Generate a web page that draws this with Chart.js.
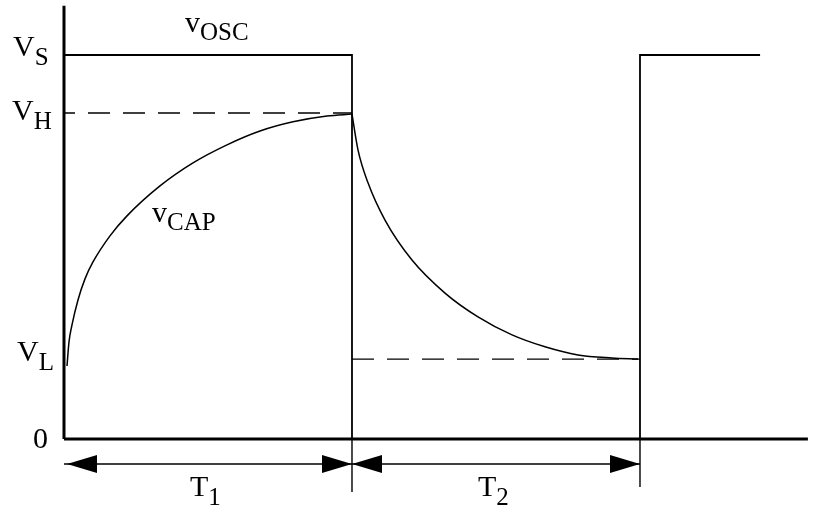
<!DOCTYPE html>
<html lang="en">

<head>
  <meta charset="UTF-8">
  <title>Oscillator and capacitor voltage</title>
  <script src="https://cdn.jsdelivr.net/npm/chart.js"></script>
  <style>
    body { margin: 0; background: #fff; }
    #wrap { position: relative; width: 821px; height: 508px; }
  </style>
</head>

<body>
  <div id="wrap"><canvas id="timing"></canvas></div>

  <script>
    // levels (VS = 1) and time (T1 = 1)
    const VS = 1.0, VH = 0.849, VL = 0.208;
    const periodT = [0, 1, 2];

    // square wave of the oscillator
    const oscT = [0, 1, 1, 2, 2, 2.417];
    const oscV = [VS, VS, 0, 0, VS, VS];

    // capacitor charging
    const capRiseT = [0.0104, 0.0174, 0.0278, 0.0486, 0.0729, 0.1007, 0.1597, 0.2188, 0.3333, 0.4479, 0.566, 0.6806, 0.7951, 0.9132, 1.0];
    const capRiseV = [0.190, 0.253, 0.297, 0.362, 0.417, 0.461, 0.529, 0.581, 0.659, 0.719, 0.766, 0.802, 0.826, 0.841, 0.846];

    // capacitor discharging
    const capFallT = [1.0, 1.0208, 1.0556, 1.1146, 1.2083, 1.3229, 1.4375, 1.5556, 1.6701, 1.7847, 1.9028, 1.993];
    const capFallV = [0.846, 0.753, 0.667, 0.570, 0.466, 0.380, 0.318, 0.271, 0.240, 0.219, 0.211, 0.208];

    // y axis labels
    const tickValues = [VS, VH, VL, 0];
    const tickMain = ['V', 'V', 'V', '0'];
    const tickSub = ['S', 'H', 'L', ''];

    const periodLabels = ['1', '2'];

    const pts = (xs, ys) => xs.map((x, i) => ({ x: x, y: ys[i] }));

    const line = (data, extra) => Object.assign({
      data: data,
      showLine: true,
      borderColor: '#000',
      borderWidth: 1.6,
      pointRadius: 0,
      fill: false,
      borderCapStyle: 'butt',
      borderJoinStyle: 'miter'
    }, extra || {});

    const arrowY = -0.065;
    const yAxisTop = 1.128, xAxisEnd = 2.583;
    const markerBottom = [-0.138, -0.125];

    // text + arrowheads
    const annotations = {
      id: 'annotations',
      afterDatasetsDraw(chart) {
        const ctx = chart.ctx;
        const xs = chart.scales.x, ys = chart.scales.y;
        const main = '30px "Liberation Serif"';
        const small = '25px "Liberation Serif"';

        const subText = (x, y, a, b, subDy) => {
          ctx.font = main;
          ctx.fillText(a, x, y);
          const w = ctx.measureText(a).width;
          ctx.font = small;
          ctx.fillText(b, x + w, y + subDy);
        };

        ctx.save();
        ctx.fillStyle = '#000';
        ctx.textAlign = 'left';
        ctx.textBaseline = 'alphabetic';

        // level labels
        const ax = xs.getPixelForValue(0);
        const dx = [-51, -52, -47, -31];
        const dy = [1, 7, 2, 9];
        tickValues.forEach((v, i) => {
          subText(ax + dx[i], ys.getPixelForValue(v) + dy[i], tickMain[i], tickSub[i], 9);
        });

        // curve names
        subText(xs.getPixelForValue(0.42), ys.getPixelForValue(1.06), 'v', 'OSC', 8);
        subText(xs.getPixelForValue(0.306), ys.getPixelForValue(0.565), 'v', 'CAP', 8);

        // arrows with heads
        const ay = ys.getPixelForValue(arrowY);
        const head = (tip, dir) => {
          ctx.beginPath();
          ctx.moveTo(tip, ay);
          ctx.lineTo(tip + dir * 30, ay - 9);
          ctx.lineTo(tip + dir * 30, ay + 9);
          ctx.closePath();
          ctx.fill();
        };
        for (let i = 0; i < periodT.length - 1; i++) {
          const a = xs.getPixelForValue(periodT[i]);
          const b = xs.getPixelForValue(periodT[i + 1]);
          head(a + (i === 0 ? 3 : 0), 1);
          head(b, -1);
          const mid = (a + b) / 2;
          subText(mid - 18, ay + 32, 'T', periodLabels[i], 9);
        }
        ctx.restore();
      }
    };

    const arrowData = [];
    for (let i = 0; i < periodT.length - 1; i++) {
      arrowData.push({ x: periodT[i], y: arrowY }, { x: periodT[i + 1], y: arrowY }, { x: null, y: null });
    }

    new Chart(document.getElementById('timing'), {
      type: 'scatter',
      data: {
        datasets: [
          // axes
          line(pts([0, 0], [yAxisTop, 0]), { borderWidth: 3 }),
          line(pts([0, xAxisEnd], [0, 0]), { borderWidth: 3 }),
          // markers below the axis
          line(pts([1, 1], [0, markerBottom[0]]), { borderWidth: 1.4 }),
          line(pts([2, 2], [0, markerBottom[1]]), { borderWidth: 1.4 }),
          // dashed levels
          line(pts([0, 1], [VH, VH]), { borderDash: [22, 13], borderDashOffset: 11, borderWidth: 1.4 }),
          line(pts([1, 2], [VL, VL]), { borderDash: [22, 13], borderDashOffset: 0, borderWidth: 1.4 }),
          // oscillator
          line(pts(oscT, oscV), { borderWidth: 1.8 }),
          // capacitor
          line(pts(capRiseT, capRiseV), { cubicInterpolationMode: 'monotone', borderWidth: 1.5 }),
          line(pts(capFallT, capFallV), { cubicInterpolationMode: 'monotone', borderWidth: 1.5 }),
          // period arrows
          line(arrowData, { borderWidth: 1.4, spanGaps: false })
        ]
      },
      options: {
        responsive: true,
        maintainAspectRatio: false,
        animation: false,
        layout: { padding: 0 },
        plugins: { legend: { display: false }, tooltip: { enabled: false } },
        scales: {
          x: { type: 'linear', display: false, min: -0.2222, max: 2.6285 },
          y: { type: 'linear', display: false, min: -0.1797, max: 1.1432 }
        }
      },
      plugins: [annotations]
    });
  </script>
</body>

</html>
